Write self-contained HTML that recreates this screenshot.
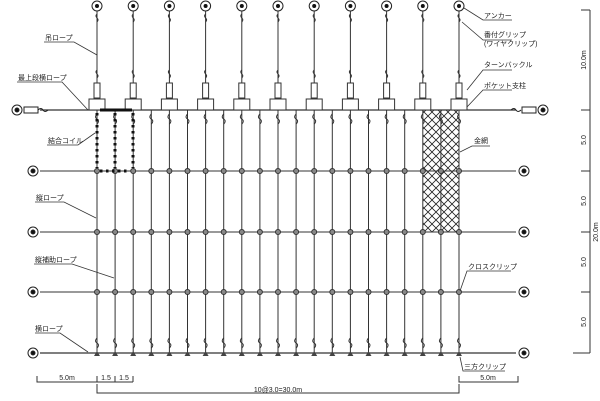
<!DOCTYPE html>
<html><head><meta charset="utf-8"><style>
html,body{margin:0;padding:0;background:#fff;width:600px;height:401px;overflow:hidden}
svg{display:block}
text{font-family:"Liberation Sans","Noto Sans CJK JP",sans-serif;fill:#222}
</style></head><body>
<svg width="600" height="401" viewBox="0 0 600 401" xmlns="http://www.w3.org/2000/svg">
<defs>
<pattern id="mesh" width="8" height="8" patternUnits="userSpaceOnUse">
<path d="M0,0 L8,8 M8,0 L0,8" stroke="#222" stroke-width="0.8"/>
</pattern>
</defs>
<g stroke="#333" fill="none" stroke-width="1">
<!-- mesh -->
<rect x="423" y="110" width="36" height="122" fill="url(#mesh)" stroke="none"/>
<!-- horizontal rows -->
<line x1="40" y1="110" x2="516" y2="110" stroke-width="1.3"/>
<line x1="40" y1="171" x2="516" y2="171"/>
<line x1="40" y1="232" x2="516" y2="232"/>
<line x1="40" y1="292" x2="516" y2="292"/>
<line x1="40" y1="353" x2="516" y2="353" stroke-width="1.3"/>
</g>
<g id="verts" stroke="#333" fill="none" stroke-width="1"></g>
<g id="dyn"></g>
<!-- coil -->
<g fill="#111">
<rect x="100" y="108.5" width="32" height="3"/>
</g>
<g stroke="#111" stroke-width="3" stroke-dasharray="2.5,3.5" fill="none">
<line x1="97" y1="113" x2="97" y2="168"/>
<line x1="115" y1="113" x2="115" y2="168"/>
<line x1="133" y1="113" x2="133" y2="168"/>
<line x1="100" y1="171" x2="130" y2="171"/>
</g>
<!-- top-left anchor with turnbuckle -->
<g stroke="#222" fill="none">
<circle cx="17" cy="110" r="5"/><circle cx="17" cy="110" r="2" fill="#111"/>
<rect x="24" y="107" width="14" height="6"/>
<path d="M38,110 q3,-3 5,0 q2,3 5,0"/>
<circle cx="543" cy="110" r="5"/><circle cx="543" cy="110" r="2" fill="#111"/>
<rect x="522" y="107" width="14" height="6"/>
<path d="M511,110 q3,-3 5,0 q2,3 5,0"/>
</g>
<g stroke="#222" fill="none">
<circle cx="33" cy="171" r="5"/><circle cx="33" cy="171" r="2" fill="#111"/>
<circle cx="33" cy="232" r="5"/><circle cx="33" cy="232" r="2" fill="#111"/>
<circle cx="33" cy="292" r="5"/><circle cx="33" cy="292" r="2" fill="#111"/>
<circle cx="33" cy="353" r="5"/><circle cx="33" cy="353" r="2" fill="#111"/>
<circle cx="524" cy="171" r="5"/><circle cx="524" cy="171" r="2" fill="#111"/>
<circle cx="524" cy="232" r="5"/><circle cx="524" cy="232" r="2" fill="#111"/>
<circle cx="524" cy="292" r="5"/><circle cx="524" cy="292" r="2" fill="#111"/>
<circle cx="524" cy="353" r="5"/><circle cx="524" cy="353" r="2" fill="#111"/>
</g>
<!-- right dimension -->
<g stroke="#333" fill="none">
<line x1="590" y1="10" x2="590" y2="353"/>
<line x1="581" y1="10" x2="590" y2="10"/>
<line x1="581" y1="110" x2="590" y2="110"/>
<line x1="581" y1="171" x2="590" y2="171"/>
<line x1="581" y1="232" x2="590" y2="232"/>
<line x1="581" y1="292" x2="590" y2="292"/>
<line x1="573" y1="353" x2="590" y2="353"/>
<!-- bottom dims -->
<polyline points="37,376 37,382 97,382 97,376"/>
<polyline points="115,376 115,382"/><line x1="97" y1="382" x2="133" y2="382"/>
<line x1="133" y1="376" x2="133" y2="382"/>
<polyline points="459,376 459,382 518,382 518,376"/>
<polyline points="97,384 97,393 459,393 459,384"/>
</g>
<g font-size="7">
<text x="67" y="380" text-anchor="middle">5.0m</text>
<text x="106" y="380" text-anchor="middle">1.5</text>
<text x="124" y="380" text-anchor="middle">1.5</text>
<text x="488" y="380" text-anchor="middle">5.0m</text>
<text x="278" y="392" text-anchor="middle">10@3.0=30.0m</text>
<text transform="translate(586,60) rotate(-90)" text-anchor="middle">10.0m</text>
<text transform="translate(586,140) rotate(-90)" text-anchor="middle">5.0</text>
<text transform="translate(586,201) rotate(-90)" text-anchor="middle">5.0</text>
<text transform="translate(598,232) rotate(-90)" text-anchor="middle">20.0m</text>
<text transform="translate(586,262) rotate(-90)" text-anchor="middle">5.0</text>
<text transform="translate(586,322) rotate(-90)" text-anchor="middle">5.0</text>
</g>
<!-- labels -->
<g font-size="7" stroke="none">
<text x="45" y="40">吊ロープ</text>
<text x="18" y="80">最上段横ロープ</text>
<text x="48" y="143">結合コイル</text>
<text x="36" y="200">縦ロープ</text>
<text x="35" y="262">縦補助ロープ</text>
<text x="35" y="331">横ロープ</text>
<text x="484" y="18">アンカー</text>
<text x="484" y="37">番付グリップ</text>
<text x="484" y="46">(ワイヤクリップ)</text>
<text x="484" y="67">ターンバックル</text>
<text x="484" y="88">ポケット支柱</text>
<text x="474" y="143">金網</text>
<text x="468" y="269">クロスクリップ</text>
<text x="464" y="369">三方クリップ</text>
</g>
<g stroke="#333" fill="none" stroke-width="0.8">
<polyline points="44,42 74,42 97,55"/>
<polyline points="17,82 62,82 88,110"/>
<polyline points="47,145 78,145 95,133"/>
<polyline points="35,202 64,202 96,218"/>
<polyline points="34,264 72,264 114,278"/>
<polyline points="35,333 60,333 88,352"/>
<polyline points="512,20 483,20 464,8"/>
<polyline points="512,40 483,40 462,22"/>
<polyline points="512,70 483,70 467,90"/>
<polyline points="512,90 483,90 467,107"/>
<polyline points="490,146 472,146 460,152"/>
<polyline points="511,271 467,271 460,291"/>
<polyline points="505,371 463,371 460,357"/>
</g>
<script>
var NS="http://www.w3.org/2000/svg",g=document.getElementById("dyn");
function el(t,a){var e=document.createElementNS(NS,t);for(var k in a)e.setAttribute(k,a[k]);g.appendChild(e);return e;}
for(var i=0;i<21;i++){
 var x=97+i*18.1;
 el("line",{x1:x,y1:110,x2:x,y2:353,stroke:"#333","stroke-width":1});
 // squiggles
 el("path",{d:"M"+x+",114 q-3,3 0,5 q3,2 0,5",stroke:"#333",fill:"none"});
 el("path",{d:"M"+x+",338 q-3,3 0,5 q3,2 0,5",stroke:"#333",fill:"none"});
 [171,232,292].forEach(function(y){el("circle",{cx:x,cy:y,r:2.5,fill:"#888",stroke:"#333"});});
 el("path",{d:"M"+(x-3)+",356 L"+(x+3)+",356 L"+x+",351 Z",fill:"#444"});
 if(i%2==0){
  el("rect",{x:x-8,y:99,width:16,height:11,fill:"#fff",stroke:"#333"});
  el("rect",{x:x-3,y:83,width:6,height:15,fill:"#fff",stroke:"#333"});
  el("line",{x1:x,y1:11,x2:x,y2:83,stroke:"#333"});
  el("path",{d:"M"+x+",14 q-2,2 0,4 q2,2 0,4",stroke:"#333",fill:"none"});
  el("path",{d:"M"+x+",70 q-2,2 0,4 q2,2 0,4",stroke:"#333",fill:"none"});
  el("circle",{cx:x,cy:6,r:5,fill:"#fff",stroke:"#222"});
  el("circle",{cx:x,cy:6,r:2,fill:"#111"});
 }
}
</script>
</svg>
</body></html>
